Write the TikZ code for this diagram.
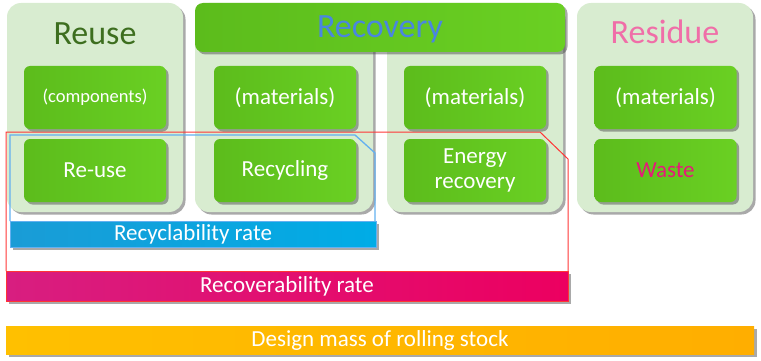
\documentclass[tikz,border=0pt]{standalone}
\usepackage{fontspec}
\setmainfont{Carlito}
\usetikzlibrary{shadows}
\definecolor{panelc}{HTML}{D8ECD0}
\definecolor{gdark}{HTML}{5CBC1C}
\definecolor{gmid}{HTML}{79DE29}
\definecolor{glight}{HTML}{6AD023}
\definecolor{reusec}{HTML}{3D6E1F}
\definecolor{recovc}{HTML}{4A86E0}
\definecolor{residc}{HTML}{F06EA8}
\definecolor{wastec}{HTML}{E6197A}
\definecolor{blueline}{HTML}{63B0F0}
\definecolor{redline}{HTML}{FF3535}
\definecolor{bL}{HTML}{1A9CD6}
\definecolor{bM}{HTML}{00BEF5}
\definecolor{bR}{HTML}{00ACE6}
\definecolor{mL}{HTML}{D81E80}
\definecolor{mM}{HTML}{FF0068}
\definecolor{mR}{HTML}{EC0060}
\definecolor{oL}{HTML}{FFC000}
\definecolor{oR}{HTML}{FFAE00}
\begin{document}
\begin{tikzpicture}[x=1pt,y=-1pt,
  shad/.style={drop shadow={shadow xshift=2.5pt,shadow yshift=-2.5pt,opacity=.45,fill=black!75}},
  panel/.style={shad,rounded corners=14pt,fill=panelc,inner sep=0pt,minimum height=209pt,minimum width=176pt},
  greenbox/.style={shad,rounded corners=6pt,left color=gdark,middle color=gmid,right color=glight,inner sep=0pt,
    text=white,font=\fontsize{23}{25}\selectfont,align=center,minimum width=142pt,minimum height=63pt},
  head/.style={anchor=base,font=\fontsize{34}{37}\selectfont,inner sep=0pt},
  bar/.style={shad,inner sep=0pt,text=white,font=\fontsize{23}{25}\selectfont}
]
\useasboundingbox (0,0) rectangle (761,361);
% panels
\node[panel] (reusep) at (95,107.5) {};
\node[panel,minimum width=178pt] (recovpa) at (284,107.5) {};
\node[panel] (recovpb) at (475,107.5) {};
\node[panel] (residp) at (665,107.5) {};
% recovery header bar
\node[greenbox,rounded corners=8pt,minimum width=370pt,minimum height=49pt] (recovh) at (380,27.5) {};
% headers
\node[head,text=reusec] (reuset) at (95,45) {Reuse};
\node[head,text=recovc] (recovt) at (380,38) {Recovery};
\node[head,text=residc] (residt) at (665,44) {Residue};
% outlines
\draw[redline,line width=1pt] (6,271) -- (6,132) -- (540,132) -- (568,159) -- (568,271);
\draw[blueline,line width=1.3pt] (10,221) -- (10,135) -- (355,135) -- (375,153) -- (375,221);
% inner boxes
\node[greenbox,font=\fontsize{18.5}{21}\selectfont] (comp) at (95,97.5) {(components)};
\node[greenbox] (mat2) at (285,97.5) {(materials)};
\node[greenbox] (mat3) at (475,97.5) {(materials)};
\node[greenbox] (mat4) at (665.5,97.5) {(materials)};
\node[greenbox] (reuseb) at (95,170.5) {Re-use};
\node[greenbox] (recyb) at (285,170.5) {Recycling};
\node[greenbox] (energyb) at (475,170.5) {Energy\\recovery};
\node[greenbox,text=wastec] (wasteb) at (665.5,170.5) {Waste};
% bars
\node[bar,left color=bL,middle color=bM,right color=bR,draw=blueline,line width=0.8pt,minimum width=366pt,minimum height=26pt] (recycr) at (193,234) {Recyclability rate};
\node[bar,left color=mL,middle color=mM,right color=mR,draw=redline,line width=0.8pt,minimum width=562pt,minimum height=30pt] (recovr) at (287,286) {Recoverability rate};
\node[bar,left color=oL,right color=oR,minimum width=748pt,minimum height=28pt] (design) at (380,340) {Design mass of rolling stock};
\end{tikzpicture}
\end{document}
